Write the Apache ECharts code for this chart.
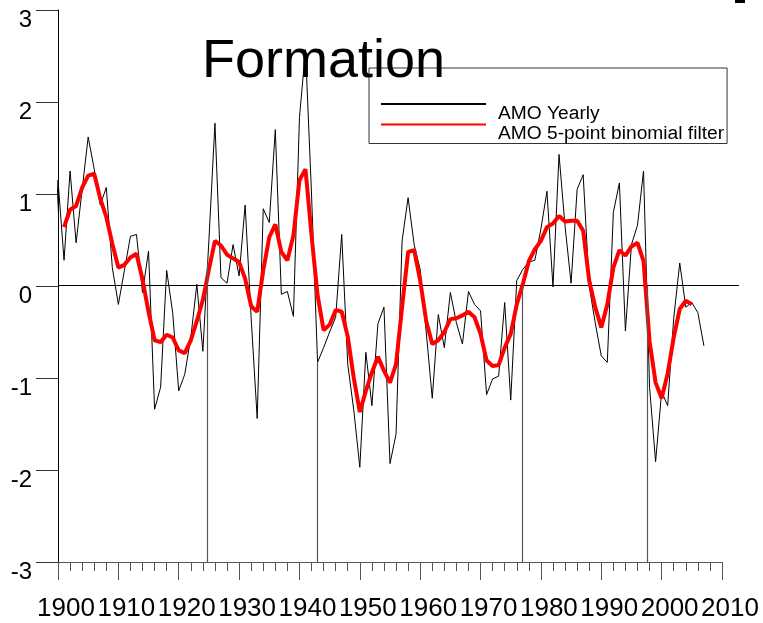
<!DOCTYPE html>
<html>
<head>
<meta charset="utf-8">
<script src="https://cdn.jsdelivr.net/npm/echarts@6/dist/echarts.min.js"></script>
<style>
  html, body { margin: 0; padding: 0; background: #fff; }
  #chart { width: 763px; height: 623px; }
</style>
</head>
<body>
<div id="chart"></div>
<script>
// Annual AMO index, one value per year starting at yearlyStart
const yearlyStart = 1899;
const amoYearly = [
  -0.34, 1.15, 0.28, 1.25, 0.47, 1.05, 1.62, 1.27, 0.88, 1.07,
  0.20, -0.20, 0.17, 0.54, 0.56, -0.07, 0.38, -1.34, -1.10, 0.17,
  -0.29, -1.14, -0.96, -0.56, 0.02, -0.71, 0.50, 1.77, 0.09, 0.03,
  0.45, 0.11, 0.88, -0.35, -1.44, 0.84, 0.69, 1.70, -0.09, -0.06,
  -0.33, 1.83, 2.57, 1.00, -0.83, -0.67, -0.50, -0.34, 0.56, -0.85,
  -1.35, -1.97, -0.72, -1.30, -0.41, -0.23, -1.93, -1.61, 0.49, 0.96,
  0.45, 0.18, -0.50, -1.22, -0.31, -0.67, -0.07, -0.40, -0.63, -0.06,
  -0.20, -0.27, -1.18, -1.01, -0.98, -0.18, -1.24, 0.06, 0.18, 0.26,
  0.28, 0.62, 1.03, -0.01, 1.43, 0.65, 0.03, 1.05, 1.21, 0.00,
  -0.40, -0.76, -0.83, 0.80, 1.12, -0.49, 0.45, 0.66, 1.25, -1.10,
  -1.91, -1.15, -1.30, -0.35, 0.25, -0.23, -0.18, -0.29, -0.65
];

// 5-point binomial smoothing of the annual series, starting at filterStart
const filterStart = 1901;
const amoFilter = [
  0.64, 0.83, 0.87, 1.07, 1.20, 1.22, 0.95, 0.75, 0.46, 0.20,
  0.23, 0.31, 0.35, 0.07, -0.28, -0.59, -0.61, -0.53, -0.56, -0.70,
  -0.73, -0.59, -0.38, -0.15, 0.18, 0.49, 0.44, 0.34, 0.30, 0.26,
  0.08, -0.22, -0.28, 0.17, 0.53, 0.67, 0.37, 0.28, 0.55, 1.15,
  1.27, 0.55, -0.10, -0.48, -0.42, -0.26, -0.28, -0.55, -1.00, -1.37,
  -1.14, -0.94, -0.77, -0.92, -1.05, -0.85, -0.23, 0.37, 0.39, 0.06,
  -0.38, -0.63, -0.59, -0.50, -0.36, -0.35, -0.32, -0.28, -0.34, -0.52,
  -0.81, -0.87, -0.86, -0.67, -0.52, -0.20, 0.02, 0.27, 0.40, 0.49,
  0.64, 0.68, 0.76, 0.70, 0.71, 0.71, 0.60, 0.06, -0.23, -0.45,
  -0.20, 0.20, 0.39, 0.33, 0.43, 0.47, 0.27, -0.60, -1.05, -1.22,
  -0.95, -0.56, -0.25, -0.16, -0.20
];

// Formation events: year and the level each drop line reaches
const formationYears = [1924.7, 1943.0, 1976.9, 1997.6];
const formationTops = [0.25, -0.83, 0.00, 0.00];

// Axis ranges
const xRange = { min: 1900, max: 2010, step: 10 };
const yRange = { min: -3, max: 3, step: 1 };

const seriesNames = ['AMO Yearly', 'AMO 5-point binomial filter'];
const titleText = 'Formation';

const FONT = '"Liberation Sans", Arial, sans-serif';

const yearlyData = amoYearly.map((v, i) => [yearlyStart + i, v]);
const filterData = amoFilter.map((v, i) => [filterStart + i, v]);
const formationLines = formationYears.map((yr, i) => [
  { coord: [yr, yRange.min] },
  { coord: [yr, formationTops[i]] }
]);

const chart = echarts.init(document.getElementById('chart'), null, { renderer: 'canvas' });

chart.setOption({
  animation: false,
  backgroundColor: '#fff',
  title: {
    text: titleText,
    left: 202,
    top: 35,
    padding: 0,
    textStyle: { fontFamily: FONT, fontSize: 54, fontWeight: 'normal', color: '#000' }
  },
  legend: {
    orient: 'vertical',
    left: 369,
    top: 68,
    padding: [25.1, 3, 0, 11],
    itemWidth: 105,
    itemHeight: 14,
    itemGap: -9.6,
    borderColor: '#333',
    borderWidth: 1,
    selectedMode: false,
    itemStyle: { opacity: 0 },
    // the label sits a little below its line sample: an empty spacer row goes first
    formatter: name => '{s| }\n{t|' + name + '}',
    textStyle: {
      fontFamily: FONT,
      color: '#000',
      rich: {
        s: { fontSize: 8, lineHeight: 19 },
        t: { fontFamily: FONT, fontSize: 19.2, lineHeight: 14, color: '#000', padding: [0, 0, 0, 7] }
      }
    },
    data: seriesNames
  },
  grid: [
    { left: 58, top: 10, width: 664, height: 552, containLabel: false },
    { left: 58, top: 9.5, width: 681, height: 552, containLabel: false }
  ],
  xAxis: [
    {
      type: 'value',
      gridIndex: 0,
      min: xRange.min,
      max: xRange.max,
      interval: xRange.step,
      axisLine: { onZero: false, lineStyle: { color: '#555', width: 1 } },
      axisTick: { length: 18, lineStyle: { color: '#555', width: 1 } },
      minorTick: { show: true, splitNumber: 5, length: 9, lineStyle: { color: '#555', width: 1 } },
      splitLine: { show: false },
      axisLabel: {
        fontFamily: FONT,
        fontSize: 26,
        color: '#000',
        margin: 34,
        padding: [0, 0, 0, 16],
        formatter: v => String(v)
      }
    },
    {
      type: 'value', gridIndex: 1, min: xRange.min, max: xRange.max, show: false
    }
  ],
  yAxis: [
    {
      type: 'value',
      gridIndex: 0,
      min: yRange.min,
      max: yRange.max,
      interval: yRange.step,
      axisLine: { show: true, onZero: false, lineStyle: { color: '#000', width: 1 } },
      axisTick: { show: true, length: 22, lineStyle: { color: '#333', width: 1 } },
      splitLine: { show: false },
      axisLabel: {
        fontFamily: FONT,
        fontSize: 24,
        lineHeight: 21,
        verticalAlign: 'top',
        color: '#000',
        margin: 26
      }
    },
    {
      type: 'value', gridIndex: 1, min: yRange.min, max: yRange.max, show: false
    }
  ],
  series: [
    {
      name: seriesNames[0],
      type: 'line',
      xAxisIndex: 0,
      yAxisIndex: 0,
      data: yearlyData,
      symbol: 'none',
      clip: false,
      lineStyle: { color: '#000', width: 1 },
      itemStyle: { color: '#000' },
      z: 3,
      markLine: {
        silent: true,
        symbol: ['none', 'none'],
        label: { show: false },
        lineStyle: { color: '#555', width: 1.2, type: 'solid' },
        data: formationLines
      }
    },
    {
      name: seriesNames[1],
      type: 'line',
      xAxisIndex: 0,
      yAxisIndex: 0,
      data: filterData,
      symbol: 'none',
      clip: false,
      lineStyle: { color: '#ff0000', width: 4 },
      itemStyle: { color: '#ff0000' },
      z: 4
    },
    {
      name: 'zero',
      type: 'line',
      xAxisIndex: 1,
      yAxisIndex: 1,
      data: [[xRange.min, 0], [xRange.max, 0]],
      symbol: 'none',
      silent: true,
      lineStyle: { color: '#000', width: 1 },
      z: 2
    }
  ],
  graphic: [
    { type: 'rect', left: 735, top: 0, shape: { width: 10, height: 3 }, style: { fill: '#000' }, silent: true }
  ]
});
</script>
</body>
</html>
